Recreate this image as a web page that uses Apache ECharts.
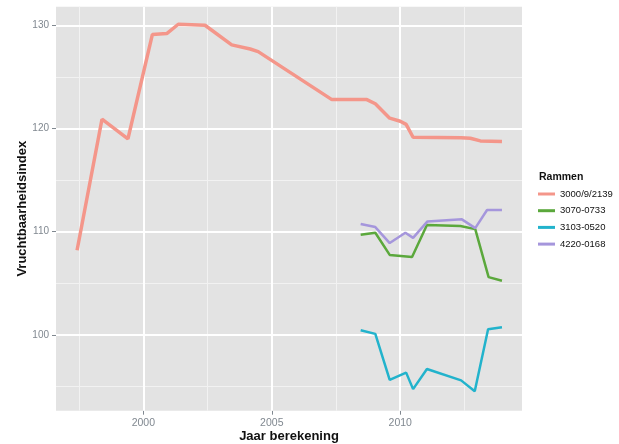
<!DOCTYPE html>
<html>
<head>
<meta charset="utf-8">
<script src="https://cdn.jsdelivr.net/npm/echarts@6/dist/echarts.min.js"></script>
<style>
html,body{margin:0;padding:0;background:#fff;}
#c{width:619px;height:444px;}
</style>
</head>
<body>
<div id="c"></div>
<script>
// ---- data ----
const seriesNames = ['3000/9/2139', '3070-0733', '3103-0520', '4220-0168'];

const yearsA = [1997.42, 1998.39, 1999.40, 2000.35, 2000.91, 2001.36, 2002.40, 2003.44, 2004.16, 2004.47, 2007.34, 2008.46, 2008.70, 2009.03, 2009.59, 2010.00, 2010.23, 2010.50, 2012.37, 2012.73, 2013.12, 2013.96];
const valuesA = [108.2, 120.9, 119.0, 129.1, 129.2, 130.1, 130.0, 128.1, 127.7, 127.45, 122.8, 122.8, 122.8, 122.4, 121.0, 120.7, 120.4, 119.15, 119.1, 119.05, 118.8, 118.75];

const yearsB = [2008.46, 2009.03, 2009.59, 2010.46, 2011.04, 2012.34, 2012.92, 2013.44, 2013.96];
const valuesB = [109.7, 109.9, 107.75, 107.55, 110.65, 110.55, 110.25, 105.6, 105.25];

const yearsC = [2008.46, 2009.03, 2009.59, 2010.23, 2010.50, 2011.04, 2012.37, 2012.90, 2013.42, 2013.96];
const valuesC = [100.45, 100.1, 95.65, 96.35, 94.75, 96.7, 95.6, 94.55, 100.55, 100.75];

const yearsD = [2008.46, 2009.03, 2009.59, 2010.20, 2010.50, 2011.06, 2012.40, 2012.92, 2013.38, 2013.96];
const valuesD = [110.75, 110.45, 108.9, 109.9, 109.4, 111.0, 111.2, 110.35, 112.1, 112.1];

const xMajorTicks = [2000, 2005, 2010];
const xMinorTicks = [1997.5, 2002.5, 2007.5, 2012.5];
const yMajorTicks = [100, 110, 120, 130];
const yMinorTicks = [95, 105, 115, 125];

const colors = ['#F4968A', '#5BA83C', '#22B3CC', '#A596DC'];

function pairs(xs, ys) { return xs.map((x, i) => [x, ys[i]]); }

const chart = echarts.init(document.getElementById('c'), null, {renderer: 'canvas'});
const font = 'Liberation Sans, Arial, sans-serif';

const gridLines = [];
xMinorTicks.forEach(v => gridLines.push({xAxis: v, lineStyle: {color: '#F2F2F2', width: 1}}));
yMinorTicks.forEach(v => gridLines.push({yAxis: v, lineStyle: {color: '#F2F2F2', width: 1}}));
xMajorTicks.forEach(v => gridLines.push({xAxis: v, lineStyle: {color: '#FFFFFF', width: 2}}));
yMajorTicks.forEach(v => gridLines.push({yAxis: v, lineStyle: {color: '#FFFFFF', width: 2}}));

const dataSets = [pairs(yearsA, valuesA), pairs(yearsB, valuesB), pairs(yearsC, valuesC), pairs(yearsD, valuesD)];
const widths = [3.5, 2.5, 2.5, 2.5];

const series = [{
  type: 'line', data: [], z: 1, silent: true,
  markLine: {silent: true, z: 1, symbol: ['none', 'none'], label: {show: false}, animation: false,
    lineStyle: {type: 'solid'}, data: gridLines}
}];
seriesNames.forEach((n, i) => {
  series.push({
    name: n, type: 'line', data: dataSets[i], z: 3,
    showSymbol: false, symbol: 'none',
    lineStyle: {color: colors[i], width: widths[i]},
    itemStyle: {color: colors[i]},
    animation: false
  });
});

chart.setOption({
  animation: false,
  color: colors,
  grid: {left: 56, right: 97, top: 6.7, bottom: 33.3, show: true, backgroundColor: '#E3E3E3', borderWidth: 0,
    outerBoundsMode: 'none', containLabel: false},
  xAxis: {
    type: 'value', min: 1996.6, max: 2014.74,
    name: 'Jaar berekening', nameLocation: 'middle', nameGap: 19, nameMoveOverlap: false,
    nameTextStyle: {fontFamily: font, fontSize: 13, fontWeight: 'bold', color: '#111'},
    axisLine: {show: false},
    axisTick: {show: true, length: 4, customValues: xMajorTicks, lineStyle: {color: '#808890'}},
    axisLabel: {customValues: xMajorTicks, margin: 7, fontFamily: font, fontSize: 10.5, color: '#808890',
      formatter: v => String(Math.round(v))},
    splitLine: {show: false}
  },
  yAxis: {
    type: 'value', min: 92.66, max: 131.8,
    name: 'Vruchtbaarheidsindex', nameLocation: 'middle', nameGap: 27, nameMoveOverlap: false,
    nameTextStyle: {fontFamily: font, fontSize: 13, fontWeight: 'bold', color: '#111'},
    axisLine: {show: false},
    axisTick: {show: true, length: 4, customValues: yMajorTicks, lineStyle: {color: '#808890'}},
    axisLabel: {customValues: yMajorTicks, margin: 7, fontFamily: font, fontSize: 10, color: '#808890',
      formatter: v => String(Math.round(v))},
    splitLine: {show: false}
  },
  title: {
    text: 'Rammen', left: 534, top: 167,
    textStyle: {fontFamily: font, fontSize: 10.5, fontWeight: 'bold', color: '#111'}
  },
  legend: {
    orient: 'vertical', left: 533, top: 183,
    data: seriesNames, icon: 'rect', itemWidth: 17, itemHeight: 3, itemGap: 4.7,
    textStyle: {fontFamily: font, fontSize: 9.5, color: '#111', lineHeight: 12}
  },
  series: series
});
</script>
</body>
</html>
